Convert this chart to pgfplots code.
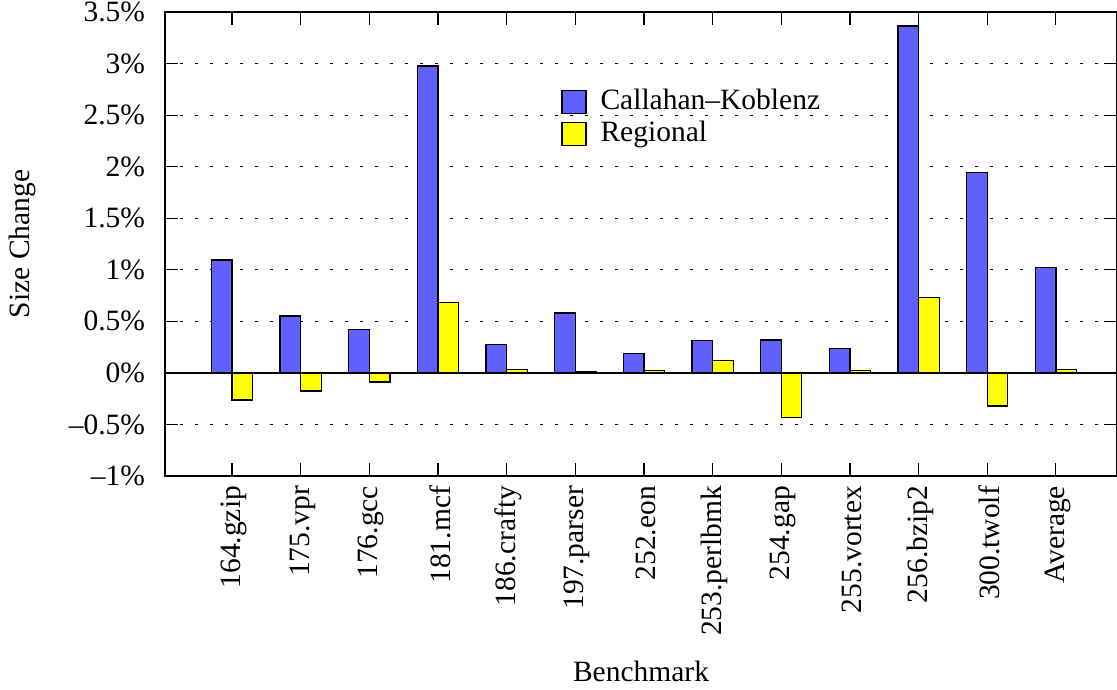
\documentclass[border=0pt]{standalone}
\usepackage{fontspec}
\setmainfont{Liberation Serif}
\usepackage{pgfplots}
\pgfplotsset{compat=1.18}
\usetikzlibrary{calc}
\definecolor{ckblue}{RGB}{96,96,255}
\definecolor{regyellow}{RGB}{255,255,0}
\newcommand{\fs}{\fontsize{29.5}{34}\selectfont}
\begin{document}
\fs
\begin{tikzpicture}
\begin{axis}[
  ybar=0pt, bar width=0.3,
  name=ax,
  scale only axis, width=952pt, height=464pt,
  xmin=-0.975, xmax=12.89, ymin=-1, ymax=3.5,
  ytick={-1,-0.5,0,0.5,1,1.5,2,2.5,3,3.5},
  yticklabels={--1\%,--0.5\%,0\%,0.5\%,1\%,1.5\%,2\%,2.5\%,3\%,3.5\%},
  xtick={0,1,2,3,4,5,6,7,8,9,10,11,12},
  xticklabels={164.gzip,175.vpr,176.gcc,181.mcf,186.crafty,197.parser,252.eon,253.perlbmk,254.gap,255.vortex,256.bzip2,300.twolf,Average},
  x tick label style={rotate=90, anchor=east, font=\fs, yshift=-2pt},
  y tick label style={font=\fs, xshift=-10pt},
  ymajorgrids,
  grid style={black, line width=1pt, dash pattern=on 3pt off 12pt},
  extra y ticks={0},
  extra y tick labels={},
  extra y tick style={grid style={solid, black, line width=1.4pt}, major tick length=0pt},
  tick align=inside, xtick align=inside, ytick align=inside,
  major tick length=13pt,
  xtick pos=both, ytick pos=both,
  tick style={black, line width=1.2pt},
  axis line style={black, line width=1.5pt},
  xlabel={Benchmark}, ylabel={Size Change},
  every axis x label/.style={at={(axis description cs:0.5,-0.442)}, anchor=base, font=\fs, inner sep=0pt},
  every axis y label/.style={at={(axis description cs:-0.150,0.5)}, anchor=center, rotate=90, font=\fs},
  legend image code/.code={\draw[#1, line width=1.3pt] (0pt,-11.5pt) rectangle (24pt,11.5pt);},
  legend style={draw=none, fill=none, at={(0.416,0.838)}, anchor=north west, inner sep=0pt,
    font=\fs, row sep=3pt,
    /tikz/every odd column/.append style={column sep=12pt}},
  legend cell align=left,
]
\addplot[draw=black, line width=1.3pt, fill=ckblue] coordinates {
(0,1.096) (1,0.553) (2,0.42) (3,2.975) (4,0.275) (5,0.58) (6,0.188) (7,0.317) (8,0.32) (9,0.237) (10,3.363) (11,1.944) (12,1.022)};
\addplot[draw=black, line width=1.3pt, fill=regyellow] coordinates {
(0,-0.262) (1,-0.175) (2,-0.087) (3,0.682) (4,0.033) (5,0.013) (6,0.026) (7,0.12) (8,-0.433) (9,0.023) (10,0.731) (11,-0.32) (12,0.033)};
\legend{Callahan--Koblenz, Regional}
\end{axis}
\pgfresetboundingbox
\path[use as bounding box] ($(ax.south west)+(-165pt,-214pt)$) rectangle ($(ax.north east)+(0pt,12pt)$);
\end{tikzpicture}
\end{document}
